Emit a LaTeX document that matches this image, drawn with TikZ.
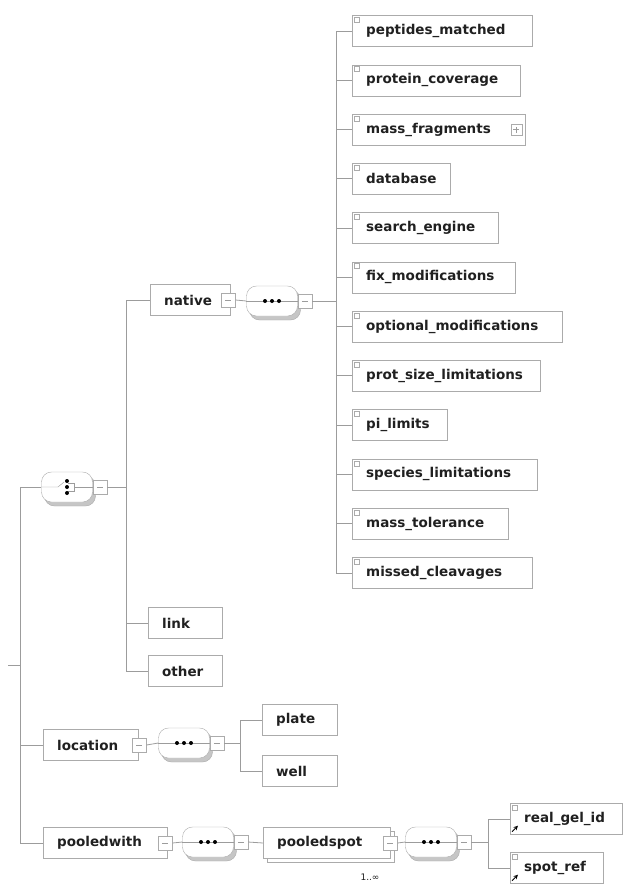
\documentclass[tikz,border=0pt]{standalone}
\usepackage{fontspec}
\setmainfont{DejaVu Sans}
\usetikzlibrary{positioning,shadows}
\definecolor{linegray}{HTML}{9C9C9C}
\definecolor{boxgray}{HTML}{ABABAB}
\definecolor{shadowgray}{HTML}{C6C6C6}
\definecolor{textgray}{HTML}{202020}
\newcommand{\elemfont}{\fontsize{13.5}{14}\selectfont\bfseries}
\tikzset{
  elem/.style={draw=boxgray, fill=white, text=textgray, font=\elemfont,
    minimum height=31pt, inner xsep=14pt, inner ysep=0pt, text width=#1,
    align=left, anchor=west},
  minusbox/.style={draw=boxgray, fill=white, minimum size=14pt, inner sep=0pt},
  compo/.style={draw=boxgray, fill=white, rounded corners=10pt,
    minimum width=51pt, minimum height=30pt, inner sep=0pt,
    copy shadow={shadow xshift=3pt, shadow yshift=-4pt, fill=shadowgray, draw=boxgray}},
  conn/.style={draw=linegray, line width=0.8pt},
}
\begin{document}
\begin{tikzpicture}[x=1pt, y=-1pt]
  \useasboundingbox (0,0) rectangle (626,884);
  % buses
  \coordinate (root) at (8,665);
  \coordinate (rootbus) at (20,0);
  \coordinate (chbus) at (126,0);
  \coordinate (natbus) at (336,0);
  \coordinate (locbus) at (240,0);
  \coordinate (psbus) at (488,0);

  % choice and its children
  \node[compo] (choice) at (67,487) {};
  \node[minusbox, right=0pt of choice] (choicem) {};
  \node[elem=52pt] (native) at (150,300) {native};
  \node[minusbox] (nativem) at ([xshift=-2pt]native.east) {};
  \node[compo] (natseq) at (272,301) {};
  \node[minusbox, right=0pt of natseq] (natseqm) {};
  \node[elem=46pt] (link) at (148,623) {link};
  \node[elem=46pt] (other) at (148,671) {other};

  % children of native
  \foreach \nm/\txt/\w [count=\i from 0] in {
      pep/peptides\_matched/152, cov/protein\_coverage/140,
      mass/mass\_fragments/145, db/database/70,
      eng/search\_engine/118, fix/fix\_modifications/135,
      opt/optional\_modifications/182, psl/prot\_size\_limitations/160,
      pil/pi\_limits/67, spl/species\_limitations/157,
      tol/mass\_tolerance/128, mis/missed\_cleavages/152} {
    \node[elem=\w pt] (\nm) at (352,{31+49.27*\i}) {\txt};
    \draw[boxgray, fill=white] ([shift={(2pt,-2pt)}]\nm.north west) rectangle ++(5pt,-5pt);
    \draw[conn] (natbus |- \nm.west) -- (\nm.west);
  }
  \node[minusbox, minimum size=11pt] (massp) at ([xshift=-9pt]mass.east) {};
  \draw[linegray] ([xshift=-3pt]massp.center) -- ([xshift=3pt]massp.center)
                  ([yshift=-3pt]massp.center) -- ([yshift=3pt]massp.center);

  % location
  \node[elem=67pt] (loc) at (43,745) {location};
  \node[minusbox] (locm) at ([xshift=1pt]loc.east) {};
  \node[compo] (locseq) at (184,743) {};
  \node[minusbox, right=0pt of locseq] (locseqm) {};
  \node[elem=47pt] (plate) at (262,720) {plate};
  \node[elem=47pt] (well) at (262,771) {well};

  % pooledwith
  \node[elem=96pt] (pw) at (43,843) {pooledwith};
  \node[minusbox] (pwm) at ([xshift=-2pt]pw.east) {};
  \node[compo] (pwseq) at (208,842) {};
  \node[minusbox, right=0pt of pwseq] (pwseqm) {};
  \node[elem=99pt, copy shadow={shadow xshift=4pt, shadow yshift=-4pt, fill=white, draw=boxgray}]
    (ps) at (263,843) {pooledspot};
  \node[minusbox] (psm) at (ps.east) {};
  \node[font=\fontsize{9}{10}\selectfont, text=textgray] (psmult) at (370,877) {1..∞};
  \node[compo] (psseq) at (431,842) {};
  \node[minusbox, right=0pt of psseq] (psseqm) {};
  \node[elem=84pt] (gel) at (510,819) {real\_gel\_id};
  \node[elem=65pt] (spot) at (510,868) {spot\_ref};
  \foreach \nm in {gel, spot} {
    \draw[boxgray, fill=white] ([shift={(2pt,-2pt)}]\nm.north west) rectangle ++(5pt,-5pt);
    \draw[black, line width=1pt, -stealth] ([shift={(2pt,3pt)}]\nm.south west) -- ++(6pt,6pt);
  }

  % compositor symbols
  \foreach \s in {natseq, locseq, pwseq, psseq} {
    \draw[linegray] (\s.west) -- (\s.east);
    \foreach \dx in {-7,0,7}
      \fill[black] ([xshift=\dx pt]\s.center) circle (2pt);
  }
  \draw[linegray] (choice.west) -- ([xshift=-9pt]choice.center)
    -- ([shift={(-3pt,5pt)}]choice.center);
  \draw[linegray] ([shift={(1pt,-4pt)}]choice.center) -- ([shift={(7pt,-4pt)}]choice.center)
    -- ([shift={(7pt,4pt)}]choice.center) -- ([shift={(1pt,4pt)}]choice.center);
  \draw[linegray] ([xshift=7pt]choice.center) -- (choice.east);
  \foreach \dy in {-6,0,6}
    \fill[black] ([yshift=\dy pt]choice.center) circle (2pt);

  % minus signs
  \foreach \m in {choicem, nativem, natseqm, locm, locseqm, pwm, pwseqm, psm, psseqm}
    \draw[linegray] ([xshift=-3pt]\m.center) -- ([xshift=3pt]\m.center);

  % connectors
  \draw[conn] (root) -- (rootbus |- root);
  \draw[conn] (rootbus |- choice.west) -- (rootbus |- pw.west);
  \draw[conn] (rootbus |- choice.west) -- (choice.west);
  \draw[conn] (rootbus |- loc.west) -- (loc.west);
  \draw[conn] (rootbus |- pw.west) -- (pw.west);
  \draw[conn] (choicem.east) -- (chbus |- choicem.east);
  \draw[conn] (chbus |- native.west) -- (chbus |- other.west);
  \foreach \nm in {native, link, other}
    \draw[conn] (chbus |- \nm.west) -- (\nm.west);
  \draw[conn] (nativem.east) -- (natseq.west);
  \draw[conn] (natseqm.east) -- (natbus |- natseqm.east);
  \draw[conn] (natbus |- pep.west) -- (natbus |- mis.west);
  \draw[conn] (locm.east) -- (locseq.west);
  \draw[conn] (locseqm.east) -- (locbus |- locseqm.east);
  \draw[conn] (locbus |- plate.west) -- (locbus |- well.west);
  \foreach \nm in {plate, well}
    \draw[conn] (locbus |- \nm.west) -- (\nm.west);
  \draw[conn] (pwm.east) -- (pwseq.west);
  \draw[conn] (pwseqm.east) -- (ps.west);
  \draw[conn] (psm.east) -- (psseq.west);
  \draw[conn] (psseqm.east) -- (psbus |- psseqm.east);
  \draw[conn] (psbus |- gel.west) -- (psbus |- spot.west);
  \foreach \nm in {gel, spot}
    \draw[conn] (psbus |- \nm.west) -- (\nm.west);
\end{tikzpicture}
\end{document}
